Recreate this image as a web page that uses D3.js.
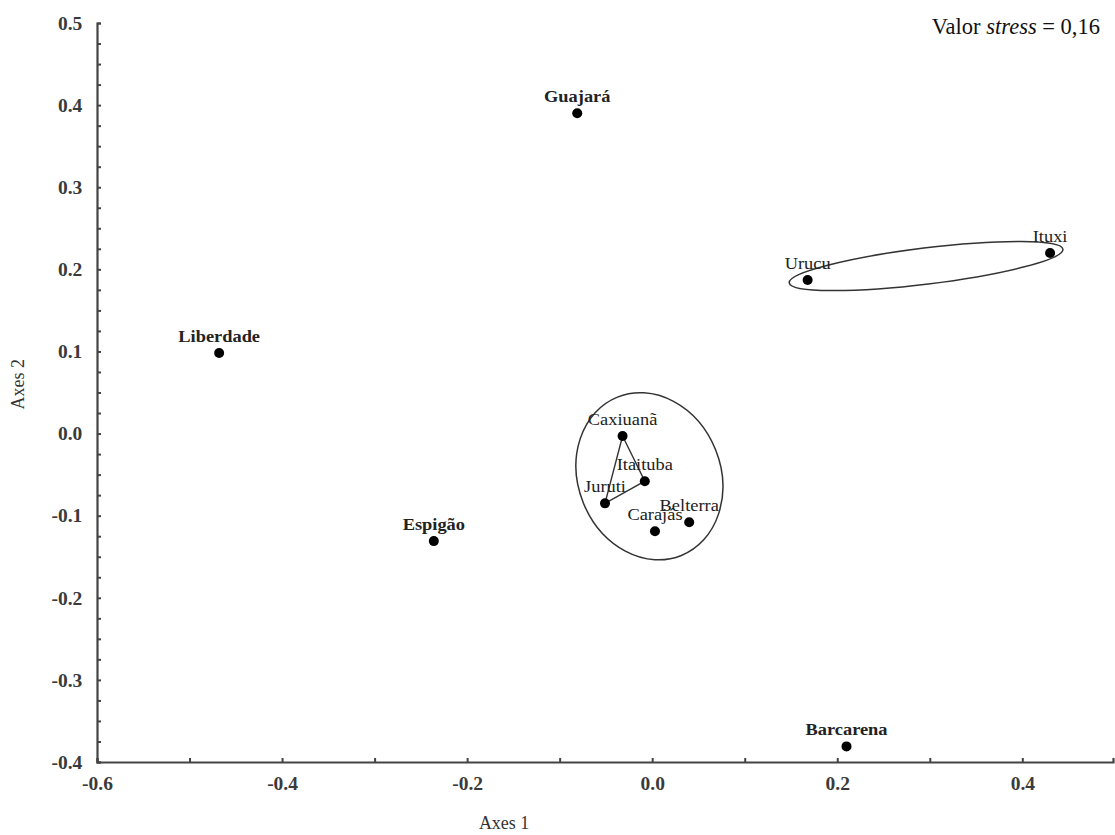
<!DOCTYPE html>
<html>
<head>
<meta charset="utf-8">
<script src="https://cdn.jsdelivr.net/npm/d3@7"></script>
<style>
  body { margin: 0; background: #fff; }
  svg text { font-family: "Liberation Serif", "Times New Roman", serif; }
</style>
</head>
<body>
<div id="chart"></div>
<script>
// site names and NMDS coordinates
const sites = ["Guajará", "Ituxi", "Urucu", "Liberdade", "Caxiuanã", "Itaituba",
  "Juruti", "Carajás", "Belterra", "Espigão", "Barcarena"];
const axis1 = [-0.081, 0.430, 0.168, -0.468, -0.032, -0.008, -0.051, 0.003, 0.040, -0.236, 0.210];
const axis2 = [0.390, 0.220, 0.187, 0.098, -0.003, -0.058, -0.085, -0.119, -0.108, -0.131, -0.381];
// labels drawn bold in the original
const boldSites = ["Guajará", "Liberdade", "Espigão", "Barcarena"];

const xTicks = [-0.6, -0.4, -0.2, 0.0, 0.2, 0.4];
const yTicks = [0.5, 0.4, 0.3, 0.2, 0.1, 0.0, -0.1, -0.2, -0.3, -0.4];

// grouping annotations: polygon and two ellipses (centre, radii in data units, rotation)
const hullSites = ["Caxiuanã", "Itaituba", "Juruti"];
const groupCx = [-0.003, 0.296];
const groupCy = [-0.052, 0.204];
const groupRx = [0.077, 0.149];
const groupRy = [0.104, 0.022];
const groupRot = [-22, -7];

const W = 1115, H = 835;
const margin = {left: 97, top: 23, right: 2, bottom: 73};

const svg = d3.select("#chart").append("svg")
  .attr("width", W).attr("height", H);

const x = d3.scaleLinear().domain([-0.6, 0.498]).range([margin.left, W - margin.right]);
const y = d3.scaleLinear().domain([-0.4, 0.5]).range([H - margin.bottom, margin.top]);

// hyphen minus, like the original
const fmt = d => (Math.abs(d) < 1e-9 ? "0.0" : d.toFixed(1));
const isMajor = (list, d) => list.some(t => Math.abs(t - d) < 1e-9);

// axes
const xAxis = svg.append("g")
  .attr("transform", `translate(0,${y(-0.4)})`)
  .call(d3.axisBottom(x).tickValues(d3.range(-0.6, 0.45, 0.1)).tickSize(-4).tickSizeOuter(-4)
    .tickFormat(d => isMajor(xTicks, d) ? fmt(d) : ""));
const yAxis = svg.append("g")
  .attr("transform", `translate(${x(-0.6)},0)`)
  .call(d3.axisLeft(y).tickValues(d3.range(-0.4, 0.5001, 0.025)).tickSize(-4).tickSizeOuter(-4)
    .tickFormat(d => isMajor(yTicks, d) ? fmt(d) : ""));

[xAxis, yAxis].forEach(g => {
  g.select(".domain").attr("stroke", "#444").attr("stroke-width", 2.2);
  g.selectAll(".tick line").attr("stroke", "#444").attr("stroke-width", 2);
  g.selectAll(".tick text").attr("fill", "#3a3a3a").attr("font-size", 19.5)
    .attr("font-weight", "bold").style("font-family", "Liberation Serif");
});
xAxis.selectAll(".tick text").attr("dy", "1.3em");
yAxis.selectAll(".tick text").attr("dx", "-0.6em");

// axis titles
svg.append("text").attr("x", x(-0.16)).attr("y", 829)
  .attr("text-anchor", "middle").attr("font-size", 18).attr("fill", "#333")
  .text("Axes 1");
svg.append("text")
  .attr("transform", `translate(24,${y(0.06)}) rotate(-90)`)
  .attr("text-anchor", "middle").attr("font-size", 18).attr("fill", "#333")
  .text("Axes 2");

// stress value
const st = svg.append("text").attr("x", 1100).attr("y", 34)
  .attr("text-anchor", "end").attr("font-size", 22.5).attr("fill", "#111");
st.append("tspan").text("Valor ");
st.append("tspan").attr("font-style", "italic").text("stress");
st.append("tspan").text(" = 0,16");

// polygon joining the inner group
const hullPts = hullSites.map(s => {
  const i = sites.indexOf(s);
  return [x(axis1[i]), y(axis2[i])];
});
svg.append("path")
  .attr("d", d3.line()(hullPts) + "Z")
  .attr("fill", "none").attr("stroke", "#333").attr("stroke-width", 1.4);

// ellipses
svg.selectAll("ellipse.group").data(groupCx).enter()
  .append("ellipse")
  .attr("class", "group")
  .attr("cx", 0).attr("cy", 0)
  .attr("rx", (d, i) => x(groupRx[i]) - x(0))
  .attr("ry", (d, i) => y(0) - y(groupRy[i]))
  .attr("transform", (d, i) => `translate(${x(d)},${y(groupCy[i])}) rotate(${groupRot[i]})`)
  .attr("fill", "none").attr("stroke", "#333").attr("stroke-width", 1.5);

// points
svg.selectAll("circle.site").data(sites).enter()
  .append("circle")
  .attr("class", "site")
  .attr("cx", (d, i) => x(axis1[i]))
  .attr("cy", (d, i) => y(axis2[i]))
  .attr("r", 5)
  .attr("fill", "#000");

// labels (original is slightly stretched horizontally)
svg.selectAll("text.site").data(sites).enter()
  .append("text")
  .attr("class", "site")
  .attr("transform", (d, i) => `translate(${x(axis1[i])},${y(axis2[i]) - 11}) scale(1.15,1)`)
  .attr("text-anchor", "middle")
  .attr("font-size", 16)
  .attr("font-weight", d => boldSites.includes(d) ? "bold" : "normal")
  .attr("fill", "#222")
  .text(d => d);
</script>
</body>
</html>
